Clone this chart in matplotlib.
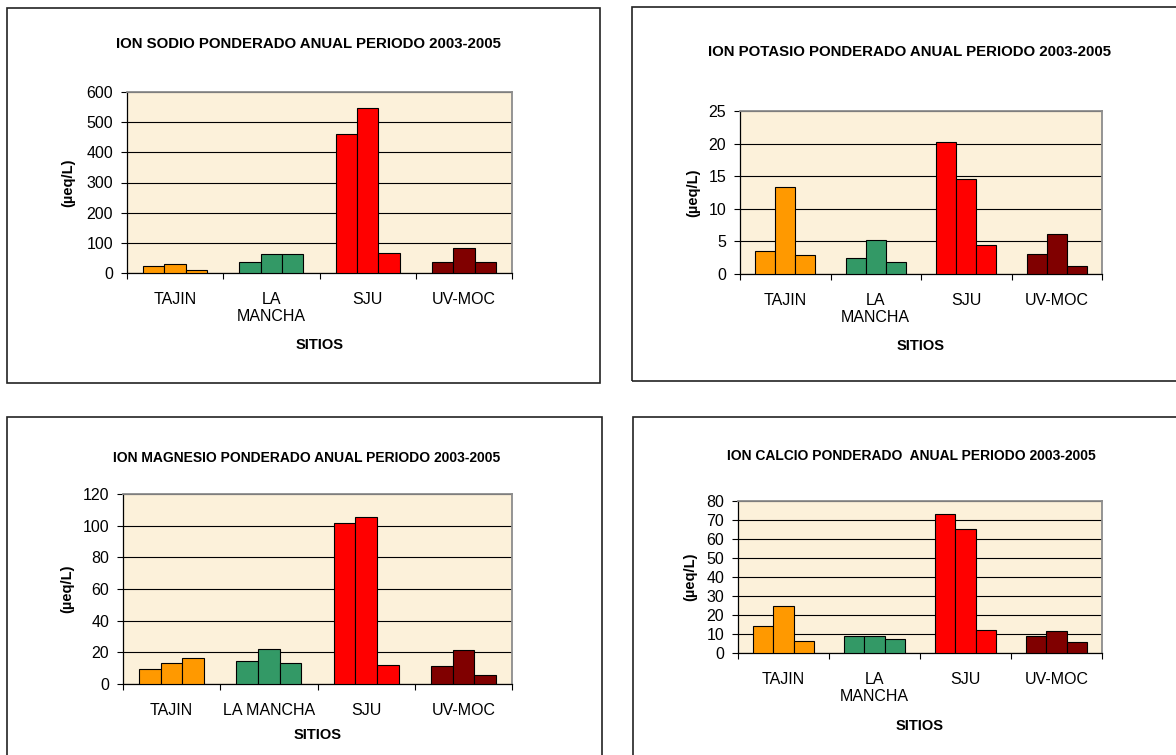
import numpy as np
import matplotlib
matplotlib.use("Agg")
import matplotlib.pyplot as plt
from matplotlib.patches import Rectangle

plt.rcParams["font.family"] = ["Liberation Sans", "DejaVu Sans"]

W, H = 1176, 755

# sampling sites, three yearly bars (2003, 2004, 2005) per site
sites = ["TAJIN", "LA\nMANCHA", "SJU", "UV-MOC"]
sites_one_line = ["TAJIN", "LA MANCHA", "SJU", "UV-MOC"]
site_colors = ["#FF9900", "#339966", "#FF0000", "#800000"]

# volume-weighted annual concentration, µeq/L, per site [2003, 2004, 2005]
sodio = [[22, 31, 9], [36, 63, 63], [460, 548, 65], [38, 84, 37]]
potasio = [[3.6, 13.4, 2.9], [2.5, 5.2, 1.9], [20.3, 14.6, 4.5], [3.1, 6.1, 1.3]]
magnesio = [[9.7, 13.5, 16.6], [14.3, 21.9, 13.1], [101.5, 105.3, 11.8], [11.2, 21.3, 5.5]]
calcio = [[14.0, 24.5, 6.5], [8.8, 8.8, 7.2], [73.2, 65.1, 12.3], [8.8, 11.4, 5.6]]

BG = "#FCF1DA"


def px_rect(x0, y0, x1, y1):
    """Pixel box (top-left origin) -> figure fraction rect."""
    return [x0 / W, 1 - y1 / H, (x1 - x0) / W, (y1 - y0) / H]


def fx(x):
    return x / W


def fy(y):
    return 1 - y / H


def draw_panel(fig, box, plot, values, title, title_size, title_pos,
               ymax, ystep, labels, xlabel_y, ylabel_x):
    # outer chart frame
    bx0, by0, bx1, by1 = box
    fig.patches.append(Rectangle((fx(bx0), fy(by1)), fx(bx1 - bx0), (by1 - by0) / H,
                                 transform=fig.transFigure, fill=False,
                                 edgecolor="#222222", linewidth=1.2))

    ax = fig.add_axes(px_rect(*plot))
    ax.set_facecolor(BG)
    ax.set_axisbelow(True)

    n = len(values)
    w = 2 / 9
    for i, grp in enumerate(values):
        for j, v in enumerate(grp):
            ax.bar(i + 0.5 + (j - 1) * w, v, width=w, color=site_colors[i],
                   edgecolor="black", linewidth=0.8, zorder=3)

    ax.set_xlim(0, n)
    ax.set_ylim(0, ymax)
    ax.set_yticks(np.arange(0, ymax + ystep / 2, ystep))
    ax.yaxis.grid(True, color="black", linewidth=0.8)

    ax.set_xticks([i + 0.5 for i in range(n)])
    ax.set_xticklabels(labels, fontsize=11.5, linespacing=1.15)
    ax.set_xticks(range(n + 1), minor=True)
    ax.tick_params(axis="x", which="major", length=0, pad=14)
    ax.tick_params(axis="x", which="minor", length=4, width=0.8, direction="out")
    ax.tick_params(axis="y", length=4, width=0.8, direction="out", pad=6, labelsize=11.5)

    for s in ("left", "bottom"):
        ax.spines[s].set_color("black")
        ax.spines[s].set_linewidth(0.9)
    for s in ("top", "right"):
        ax.spines[s].set_color("#8C8C8C")
        ax.spines[s].set_linewidth(1.3)

    px0, py0, px1, py1 = plot
    fig.text(fx(title_pos[0]), fy(title_pos[1]), title, fontsize=title_size,
             fontweight="bold", ha="center", va="center")
    fig.text(fx((px0 + px1) / 2), fy(xlabel_y), "SITIOS", fontsize=10.5,
             fontweight="bold", ha="center", va="center")
    fig.text(fx(ylabel_x), fy((py0 + py1) / 2), "(µeq/L)", fontsize=10.5,
             fontweight="bold", ha="center", va="center", rotation=90)
    return ax


fig = plt.figure(figsize=(W / 100, H / 100), dpi=100)
fig.patch.set_facecolor("white")

draw_panel(fig, (7, 8, 600, 383), (127, 92, 512, 273), sodio,
           "ION SODIO PONDERADO ANUAL PERIODO 2003-2005", 10.8, (308, 44),
           600, 100, sites, 345, 68)

draw_panel(fig, (632, 7, 1190, 381), (740, 111, 1102, 274), potasio,
           "ION POTASIO PONDERADO ANUAL PERIODO 2003-2005", 10.8, (910, 52),
           25, 5, sites, 346, 693)

draw_panel(fig, (7, 417, 602, 770), (123, 494, 512, 684), magnesio,
           "ION MAGNESIO PONDERADO ANUAL PERIODO 2003-2005", 10, (307, 458),
           120, 20, sites_one_line, 735, 67)

draw_panel(fig, (633, 417, 1190, 770), (738, 501, 1102, 653), calcio,
           "ION CALCIO PONDERADO  ANUAL PERIODO 2003-2005", 10, (911, 456),
           80, 10, sites, 726, 690)

fig.savefig("out.png", dpi=100, facecolor="white")
